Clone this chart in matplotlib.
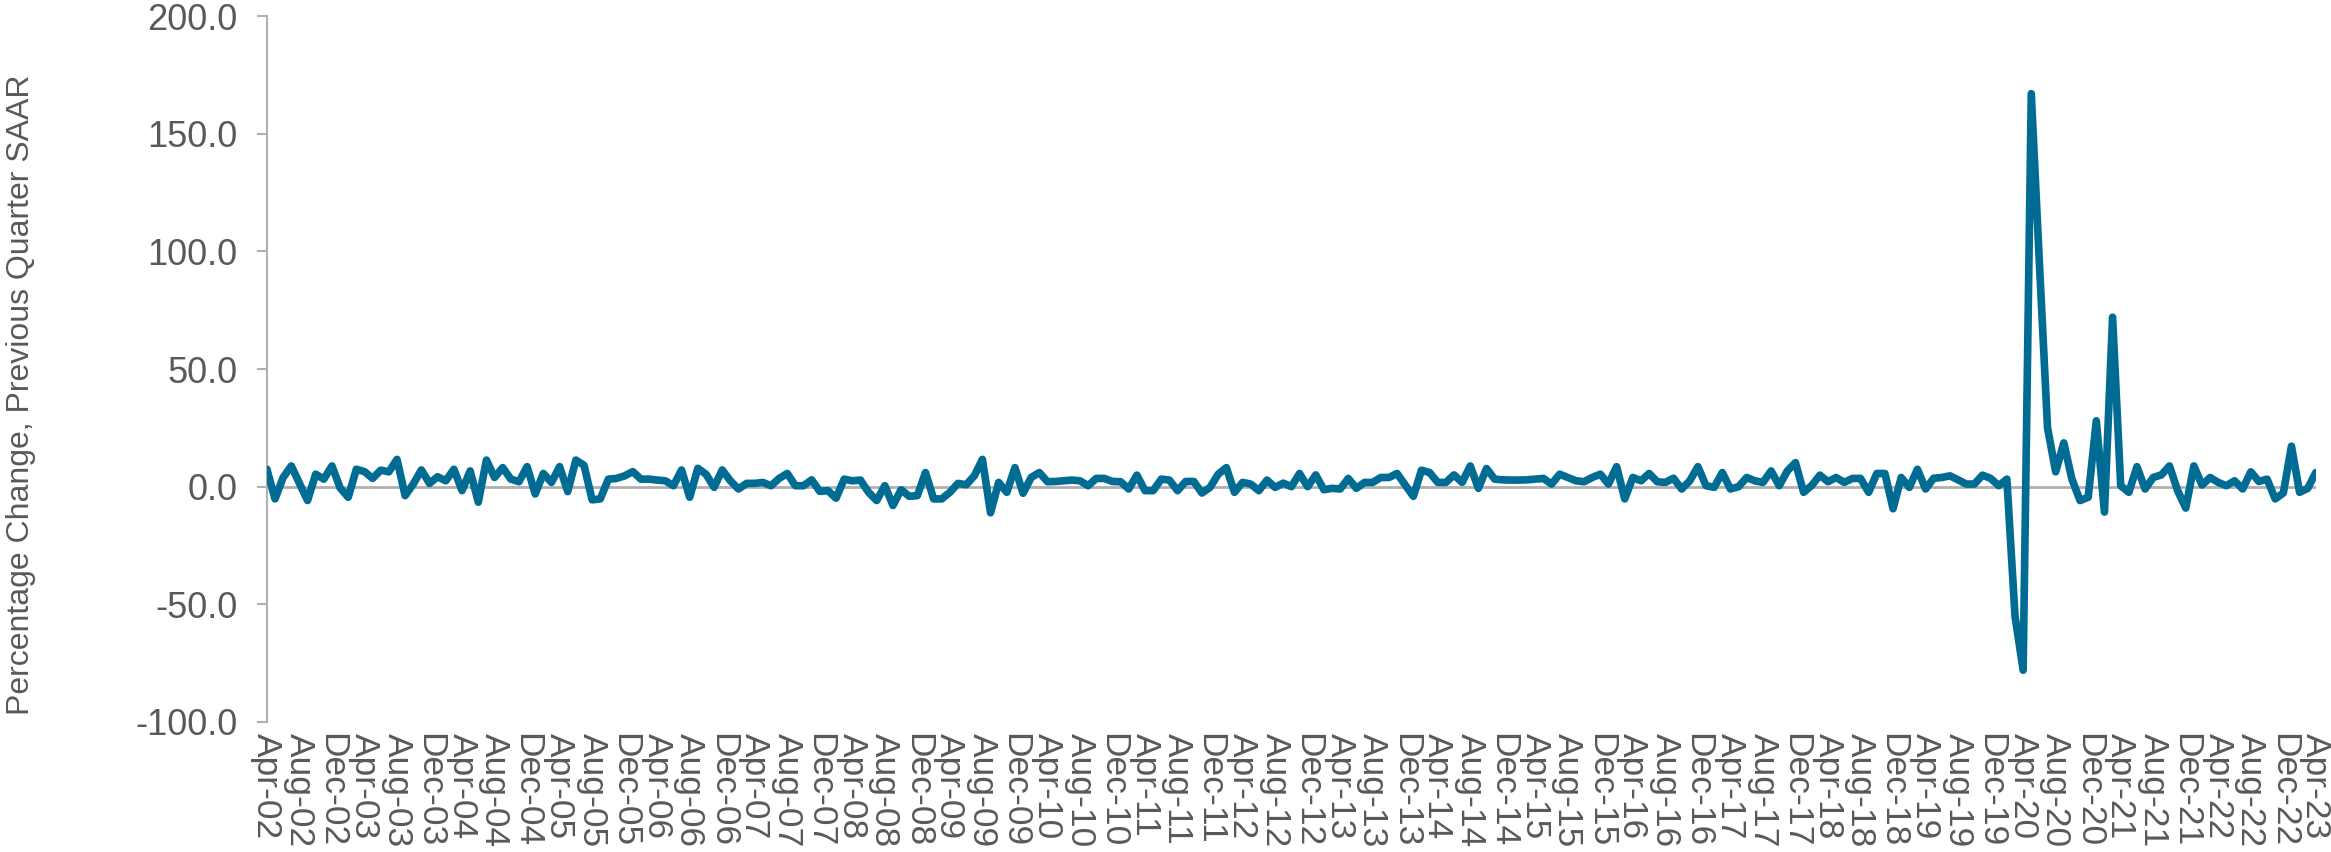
import matplotlib
matplotlib.use("Agg")
import matplotlib.pyplot as plt
import numpy as np
import pandas as pd

plt.rcParams['font.family'] = ['Liberation Sans', 'DejaVu Sans']

# monthly, Apr-02 .. Apr-23
months = pd.date_range("2002-04-01", "2023-04-01", freq="MS")
month_labels = [m.strftime("%b-%y") for m in months]

pct_change = [
    # Apr-02 .. May-07
    7.4, -5.2, 3.9, 8.8, 1.4, -5.9, 5.3, 3.2, 8.8, -0.5, -4.5, 7.4, 6.4, 3.5, 7.0, 6.3,
    11.6, -3.8, 1.1, 7.1, 1.4, 4.2, 2.5, 7.4, -1.7, 6.7, -6.6, 11.3, 3.9, 8.1, 3.2, 2.1,
    8.5, -3.1, 5.6, 1.8, 8.5, -2.1, 11.3, 9.1, -5.6, -5.2, 3.2, 3.5, 4.6, 6.4, 3.2, 3.2,
    2.8, 2.5, 0.4, 7.1, -4.5, 7.8, 5.3, -0.3, 7.1, 2.5, -1.0, 1.4, 1.4, 1.8,
    # Jun-07 .. Sep-12
    0.4, 3.5, 5.6, 0.4, 0.4, 2.9, -2.0, -1.7, -4.9, 3.2, 2.5, 2.8, -2.4, -5.9, 0.4, -8.0,
    -1.3, -4.1, -3.8, 6.0, -5.2, -5.2, -2.4, 1.4, 0.8, 4.6, 11.6, -11.1, 1.8, -2.4, 8.1, -2.8,
    3.9, 6.0, 2.1, 2.2, 2.5, 2.8, 2.5, 0.4, 3.5, 3.5, 2.2, 2.1, -1.0, 4.9, -1.7, -1.7,
    3.2, 2.8, -1.7, 2.2, 2.2, -2.7, -0.3, 5.3, 8.1, -2.4, 1.8, 1.1, -1.7, 2.8, -0.3, 1.5,
    # Oct-12 .. Jan-18
    0.0, 5.6, 0.0, 5.0, -1.3, -0.7, -1.0, 3.5, -0.7, 1.8, 1.8, 3.9, 3.9, 5.6, 0.7, -4.1,
    7.0, 6.0, 1.8, 1.8, 5.0, 1.8, 8.8, -0.7, 7.7, 3.2, 2.9, 2.8, 2.8, 2.9, 3.2, 3.5,
    1.1, 5.3, 3.9, 2.5, 2.1, 3.9, 5.3, 1.1, 8.5, -5.2, 3.9, 2.5, 5.6, 2.1, 1.8, 3.6,
    -1.0, 2.5, 8.5, 0.4, -0.3, 6.0, -1.0, 0.0, 3.9, 2.5, 1.8, 6.7, 0.4, 6.7, 10.2, -2.4,
    # Feb-18 .. Apr-23
    0.5, 4.9, 2.1, 3.9, 1.8, 3.5, 3.5, -2.4, 5.6, 5.6, -9.4, 3.9, -0.3, 7.4, -1.0, 3.6,
    3.9, 4.6, 2.9, 1.1, 1.1, 4.9, 3.5, 0.4, 3.2, -55.0, -78.0, 167.0, 95.0, 25.0, 6.3, 18.6,
    3.2, -5.9, -4.5, 28.0, -10.8, 72.0, 0.4, -2.4, 8.5, -1.0, 3.9, 5.0, 8.8, -1.7, -9.1, 8.8,
    0.7, 3.9, 1.8, 0.4, 2.5, -1.0, 6.3, 2.2, 3.2, -5.2, -2.7, 17.2, -2.4, -0.7, 6.0,
]

y_ticks = [-100, -50, 0, 50, 100, 150, 200]

text_color = "#595959"
axis_color = "#B0B0B0"
line_color = "#006C93"

fig = plt.figure(figsize=(23.31, 8.52), dpi=100)
ax = fig.add_axes([0.1145, 0.1526, 0.8790, 0.8286])

x = np.arange(len(pct_change))
ax.axhline(0, color=axis_color, linewidth=2, zorder=2)
ax.plot(x, pct_change, color=line_color, linewidth=5.5, solid_joinstyle="round",
        solid_capstyle="round", zorder=3)

ax.set_xlim(0, len(pct_change) - 1)
ax.set_ylim(-100, 200)
ax.set_yticks(y_ticks)
ax.set_yticklabels([f"{v:.1f}" for v in y_ticks])

ax.set_xticks(x[::4])
ax.set_xticklabels(month_labels[::4], rotation=-90, va="top", ha="center")

for s in ["top", "right", "bottom"]:
    ax.spines[s].set_visible(False)
ax.spines["left"].set_color(axis_color)
ax.spines["left"].set_linewidth(1.5)

ax.tick_params(axis="y", colors=axis_color, length=7, width=1.5, pad=14,
               labelsize=26, labelcolor=text_color)
ax.tick_params(axis="x", length=0, pad=8, labelsize=25.5, labelcolor=text_color)

fig.text(0.009, 0.537, "Percentage Change, Previous Quarter SAAR", rotation=90,
         va="center", ha="center", fontsize=23, color=text_color)

fig.savefig("out.png", dpi=100)
